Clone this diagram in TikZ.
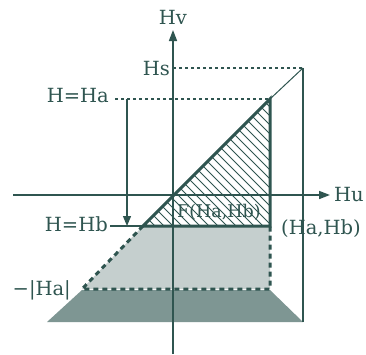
\documentclass[tikz,border=0pt]{standalone}
\usepackage{fontspec}
\setmainfont{DejaVu Serif}
\usetikzlibrary{arrows.meta}
\definecolor{ink}{RGB}{47,85,80}
\tikzset{
  lbl/.style={text=ink, inner sep=0pt, font=\fontsize{19.5}{19.5}\selectfont},
  axisline/.style={draw=ink, line width=1.6pt, -{Triangle[length=11pt,width=8pt]}},
  thinline/.style={draw=ink, line width=1.2pt},
  dashline/.style={draw=ink, line width=1.2pt, dash pattern=on 3pt off 3pt},
  thickline/.style={draw=ink, line width=3pt},
  thickdash/.style={draw=ink, line width=3pt, dash pattern=on 5pt off 4pt},
}
\begin{document}
\begin{tikzpicture}[x=1pt,y=-1pt]
\useasboundingbox[fill=white] (0,0) rectangle (366,354);
% fills
\fill[ink!62!white] (82,290) -- (270,290) -- (303,322) -- (47,322) -- cycle;
\fill[ink!28!white] (143,226) -- (270,226) -- (270,289) -- (82,289) -- cycle;
\begin{scope}
\clip (270,99) -- (270,226) -- (143,226) -- cycle;
\foreach \c in {-80,-71,...,175} \draw[ink, line width=1pt] (\c+90,90) -- (\c+240,240);
\end{scope}
% coordinates
\coordinate (huS) at (13,195);
\coordinate (huE) at (330,195);
\coordinate (hvS) at (173,354);
\coordinate (hvE) at (173,30);
\coordinate (hsA) at (173,68);
\coordinate (hsB) at (303,68);
\coordinate (hsC) at (303,322);
\coordinate (ta) at (270,99);
\coordinate (tb) at (270,226);
\coordinate (tc) at (143,226);
\coordinate (td) at (82,289);
\coordinate (te) at (270,289);
\coordinate (haS) at (115,99);
\coordinate (arS) at (127,99);
\coordinate (arE) at (127,226);
\coordinate (hbS) at (110,226);
% lines
\draw[dashline] (hsA) -- (hsB);
\draw[thinline] (hsB) -- (hsC);
\draw[ink, line width=1pt] (hsB) -- (ta);
\draw[dashline] (haS) -- (ta);
\draw[thinline, -{Triangle[length=10pt,width=8pt]}] (arS) -- (arE);
\draw[thinline] (hbS) -- (tc);
\draw[axisline] (huS) -- (huE);
\draw[axisline] (hvS) -- (hvE);
\draw[thickline, line join=miter] (tc) -- (ta) -- (tb) -- cycle;
\draw[thickdash] (tc) -- (td) -- (te) -- (tb);
% labels
\node[lbl] (hv) at (173,17) {Hv};
\node[lbl, anchor=east] (hs) at (170,69) {Hs};
\node[lbl, anchor=east] (ha) at (109,96) {H=Ha};
\node[lbl, anchor=east] (hb) at (108,224) {H=Hb};
\node[lbl, anchor=east] (mha) at (71,290) {−|Ha|};
\node[lbl, anchor=west] (hu) at (334,195) {Hu};
\node[lbl, font=\fontsize{17.5}{17.5}\selectfont] (f) at (219,212) {F(Ha,Hb)};
\node[lbl] (hab) at (321,229) {(Ha,Hb)};
\end{tikzpicture}
\end{document}
